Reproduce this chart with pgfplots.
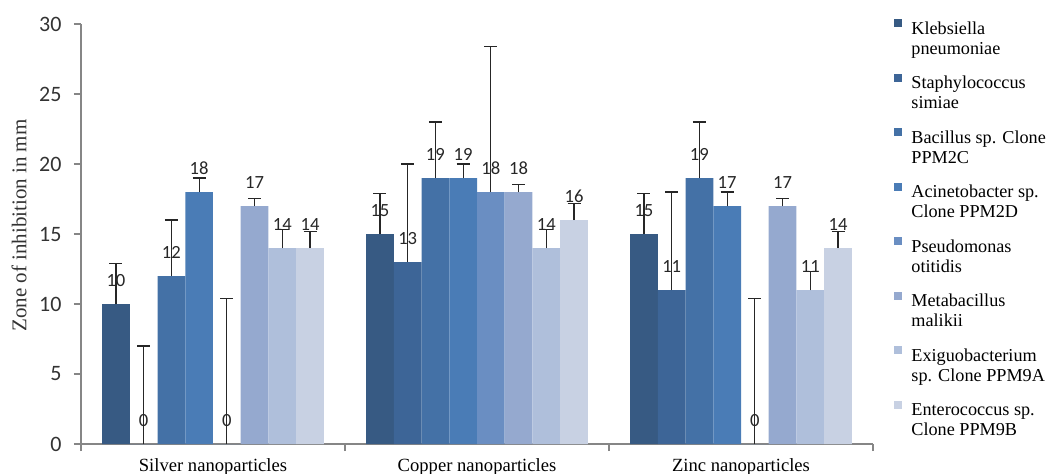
\documentclass[border=0pt]{standalone}
\usepackage{fontspec}
\setmainfont{Liberation Serif}
\newfontfamily\calfont{Carlito}
\usepackage{pgfplots}
\pgfplotsset{compat=1.18}
\definecolor{c1}{HTML}{375A83}
\definecolor{c2}{HTML}{3D6597}
\definecolor{c3}{HTML}{4471A6}
\definecolor{c4}{HTML}{4A7CB6}
\definecolor{c5}{HTML}{6A8EC2}
\definecolor{c6}{HTML}{95A9CF}
\definecolor{c7}{HTML}{AFBFDB}
\definecolor{c8}{HTML}{C8D1E3}
\definecolor{axgray}{HTML}{868686}
\newcommand\legtwo[2]{\begin{tabular}{@{\hspace{2.5pt}}l@{}}#1\\#2\end{tabular}}
\pgfplotsset{
  errstyle/.style={
    error bars/y dir=plus, error bars/y explicit,
    error bars/error bar style={line width=0.6pt, black!85},
    error bars/error mark options={rotate=90, mark size=3.25pt, line width=0.6pt, black!85},
  }
}
\begin{document}
\begin{tikzpicture}
\begin{axis}[
  at={(40.5pt,14.5pt)}, anchor=south west,
  scale only axis, width=396pt, height=210pt,
  xmin=-0.5, xmax=2.5, ymin=0, ymax=30,
  axis lines*=left,
  axis line style={draw=axgray, line width=0.6pt},
  ybar, bar width=0.105,
  ytick={0,5,10,15,20,25,30},
  xtick={-0.5,0.5,1.5,2.5}, xticklabels={},
  extra x ticks={0,1,2},
  extra x tick labels={Silver nanoparticles, Copper nanoparticles, Zinc nanoparticles},
  extra x tick style={major tick length=0pt, tick label style={font=\fontsize{9.3}{11}\selectfont, yshift=-4pt}},
  tick align=outside, major tick length=3.5pt,
  tick style={draw=axgray, line width=0.6pt},
  yticklabel style={font=\calfont\fontsize{11}{13}\selectfont, text=black!80, xshift=-2.7pt},
  /pgf/number format/assume math mode=true,
  ylabel={Zone of inhibition in mm},
  ylabel style={at={(axis description cs:-0.0783,0.52)}, anchor=center, font=\fontsize{10.5}{12}\selectfont, text=black!80},
  nodes near coords,
  every node near coord/.append style={font=\calfont\fontsize{9.3}{11}\selectfont, text=black!85, yshift=5pt},
  legend cell align=left,
  legend style={at={(axis description cs:1.0190,1.030)}, anchor=north west, draw=none, fill=none,
    font=\fontsize{9.1}{10.2}\selectfont, row sep=9.3pt},
  legend image code/.code={\fill[#1, draw=none] (-2pt,3.3pt) rectangle (2pt,7.3pt);},
]
\addplot+[errstyle, fill=c1, draw=none, bar shift=-0.3675] coordinates {(0,10) +- (0,2.9) (1,15) +- (0,2.9) (2,15) +- (0,2.9)};
\addlegendentry{\legtwo{Klebsiella}{pneumoniae}}
\addplot+[errstyle, fill=c2, draw=none, bar shift=-0.2625] coordinates {(0,0) +- (0,7) (1,13) +- (0,7) (2,11) +- (0,7)};
\addlegendentry{\legtwo{Staphylococcus}{simiae}}
\addplot+[errstyle, fill=c3, draw=none, bar shift=-0.1575] coordinates {(0,12) +- (0,4) (1,19) +- (0,4) (2,19) +- (0,4)};
\addlegendentry{\legtwo{Bacillus sp. Clone}{PPM2C}}
\addplot+[errstyle, fill=c4, draw=none, bar shift=-0.0525] coordinates {(0,18) +- (0,1) (1,19) +- (0,1) (2,17) +- (0,1)};
\addlegendentry{\legtwo{Acinetobacter sp.}{Clone PPM2D}}
\addplot+[errstyle, fill=c5, draw=none, bar shift=0.0525] coordinates {(0,0) +- (0,10.4) (1,18) +- (0,10.4) (2,0) +- (0,10.4)};
\addlegendentry{\legtwo{Pseudomonas}{otitidis}}
\addplot+[errstyle, fill=c6, draw=none, bar shift=0.1575] coordinates {(0,17) +- (0,0.55) (1,18) +- (0,0.55) (2,17) +- (0,0.55)};
\addlegendentry{\legtwo{Metabacillus}{malikii}}
\addplot+[errstyle, fill=c7, draw=none, bar shift=0.2625] coordinates {(0,14) +- (0,1.3) (1,14) +- (0,1.3) (2,11) +- (0,1.3)};
\addlegendentry{\legtwo{Exiguobacterium}{sp. Clone PPM9A}}
\addplot+[errstyle, fill=c8, draw=none, bar shift=0.3675] coordinates {(0,14) +- (0,1.2) (1,16) +- (0,1.2) (2,14) +- (0,1.2)};
\addlegendentry{\legtwo{Enterococcus sp.}{Clone PPM9B}}
\end{axis}
\pgfresetboundingbox
\useasboundingbox (0,0) rectangle (525pt,236.5pt);
\end{tikzpicture}
\end{document}
